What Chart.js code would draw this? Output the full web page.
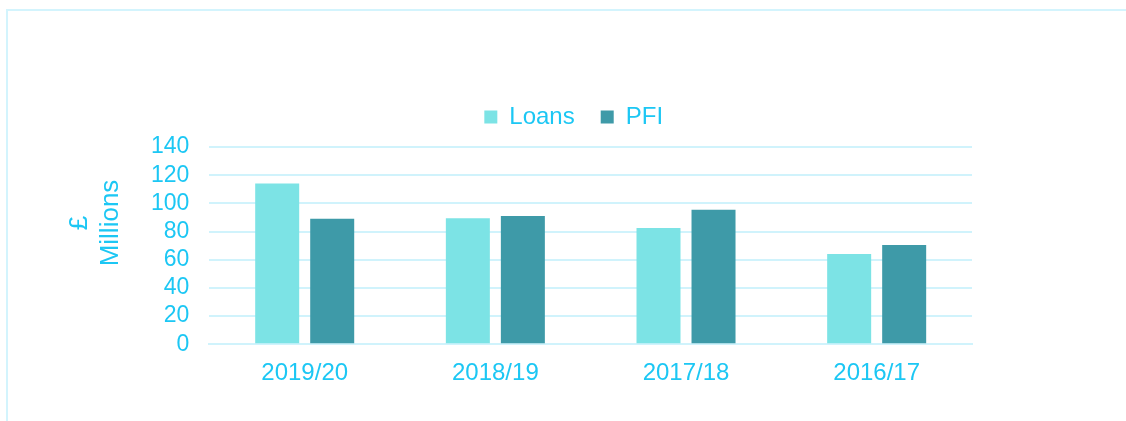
<!DOCTYPE html>
<html>
<head>
<meta charset="utf-8">
<script src="https://cdn.jsdelivr.net/npm/chart.js@4/dist/chart.umd.min.js"></script>
<style>
  html, body { margin: 0; padding: 0; background: #fff; overflow: hidden; }
  #wrap { position: relative; width: 1126px; height: 421px; }
  #frame { position: absolute; left: 6px; top: 9px; width: 1200px; height: 500px;
           border: 2px solid #d3f4fd; pointer-events: none; }
  canvas { position: absolute; left: 0; top: 0; }
</style>
</head>
<body>
<div id="wrap">
  <div id="frame"></div>
  <canvas id="myChart" width="1126" height="421"></canvas>
</div>
<script>
const years = ['2019/20', '2018/19', '2017/18', '2016/17'];
const loans = [114, 89.5, 82.5, 64];
const pfi = [89, 91, 95.5, 70.5];
const yTicks = [0, 20, 40, 60, 80, 100, 120, 140];
const yTitle = ['£', 'Millions'];

const textColor = '#1cc7f4';
const gridColor = '#d0f3fc';
const fontFamily = '"Liberation Sans", Arial, sans-serif';

// legend sits left of the plot centre and a little higher up in the original
const legendShift = {
  id: 'legendShift',
  afterLayout(chart) {
    const lg = chart.legend;
    lg.left -= 17;
    lg.right -= 17;
    lg.top -= 8;
    lg.bottom -= 8;
  }
};

// y axis title sits a bit above the middle of the axis in the original
const yTitlePlugin = {
  id: 'yTitlePlugin',
  afterDraw(chart) {
    const c = chart.ctx;
    c.save();
    c.fillStyle = textColor;
    c.font = '26px ' + fontFamily;
    c.textAlign = 'center';
    c.textBaseline = 'middle';
    yTitle.forEach((t, i) => {
      c.save();
      c.translate(80 + i * 31, 223);
      c.rotate(-Math.PI / 2);
      c.fillText(t, 0, 0);
      c.restore();
    });
    c.restore();
  }
};

const ctx = document.getElementById('myChart').getContext('2d');
new Chart(ctx, {
  type: 'bar',
  data: {
    labels: years,
    datasets: [
      { label: 'Loans', data: loans, backgroundColor: '#7ce3e5' },
      { label: 'PFI', data: pfi, backgroundColor: '#3e9aa8' }
    ]
  },
  options: {
    responsive: false,
    animation: false,
    categoryPercentage: 0.577,
    barPercentage: 0.8,
    layout: { padding: { left: 131, right: 154, top: 87, bottom: 18 } },
    plugins: {
      tooltip: { enabled: false },
      legend: {
        position: 'top',
        fullSize: false,
        labels: {
          color: textColor,
          font: { size: 24, family: fontFamily },
          boxWidth: 13,
          boxHeight: 13,
          padding: 26
        }
      }
    },
    scales: {
      x: {
        grid: { display: false, drawTicks: false },
        border: { display: true, color: gridColor, width: 2 },
        ticks: {
          color: textColor,
          padding: 15,
          autoSkip: false,
          maxRotation: 0,
          font: { size: 24, family: fontFamily }
        }
      },
      y: {
        min: 0,
        max: 140,
        afterBuildTicks(scale) {
          scale.ticks = yTicks.map(v => ({ value: v }));
        },
        grid: { color: gridColor, lineWidth: 2, drawTicks: false },
        border: { display: false },
        ticks: {
          color: textColor,
          padding: 20,
          autoSkip: false,
          font: { size: 23, family: fontFamily }
        }
      }
    }
  },
  plugins: [legendShift, yTitlePlugin]
});
</script>
</body>
</html>
